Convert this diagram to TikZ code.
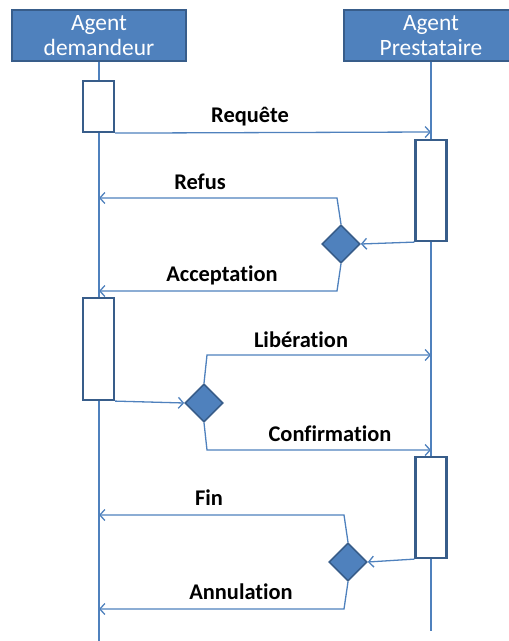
\documentclass[tikz,border=0pt]{standalone}
\usepackage{fontspec}
\setmainfont{Carlito}[Ligatures=NoCommon]
\usetikzlibrary{arrows.meta,shapes.geometric}
\definecolor{blu}{HTML}{4F81BD}
\definecolor{dblu}{HTML}{385D8A}
\begin{document}
\begin{tikzpicture}[x=1bp,y=-1bp,
 head/.style={draw=dblu,line width=2bp,fill=blu,text=white,minimum width=174bp,minimum height=51bp,inner sep=0pt,align=center,font=\fontsize{23.5}{25}\selectfont},
 act/.style={draw=dblu,line width=2.2bp,fill=white,minimum width=31bp,inner sep=0pt},
 dec/.style={diamond,draw=dblu,line width=1.6bp,fill=blu,minimum width=38bp,minimum height=38bp,inner sep=0pt},
 life/.style={draw=blu,line width=1.5bp},
 msg/.style={draw=blu,line width=1.3bp,-{Straight Barb[length=5bp,width=11bp]}},
 lbl/.style={font=\bfseries\fontsize{22.5}{24}\selectfont,text=black,inner sep=0pt}
]
\useasboundingbox (0,0) rectangle (509,641);
% headers
\node[head] (hA) at (99,35.5) {Agent\\demandeur};
\node[head] (hP) at (431,35.5) {Agent\\Prestataire};
% lifelines
\coordinate (eA) at (99,641);
\coordinate (eP) at (431,631);
\draw[life] (hA.south) -- (eA);
\draw[life] (hP.south) -- (eP);
% activations
\node[act,minimum height=51bp] (a1) at (98.5,106.5) {};
\node[act,minimum height=101bp] (a2) at (431,190.5) {};
\node[act,minimum height=102bp] (a3) at (98.5,349) {};
\node[act,minimum height=101bp] (a4) at (431,507.5) {};
% decisions
\node[dec] (d1) at (341,244) {};
\node[dec] (d2) at (204,403) {};
\node[dec] (d3) at (348,562) {};
% coordinates
\coordinate (req) at (431,132);
\coordinate (rf1) at (337,198);
\coordinate (rf2) at (99,198);
\coordinate (ac1) at (337,291);
\coordinate (ac2) at (99,291);
\coordinate (lb1) at (207,355);
\coordinate (lb2) at (431,355);
\coordinate (cf1) at (207,450);
\coordinate (cf2) at (431,450);
\coordinate (fn1) at (344,515);
\coordinate (fn2) at (99,515);
\coordinate (an1) at (344,609);
\coordinate (an2) at (99,609);
% messages
\draw[msg] (a1.south east) -- (req);
\draw[msg] (a2.south west) -- (d1.east);
\draw[msg] (d1.north) -- (rf1) -- (rf2);
\draw[msg] (d1.south) -- (ac1) -- (ac2);
\draw[msg] (a3.south east) -- (d2.west);
\draw[msg] (d2.north) -- (lb1) -- (lb2);
\draw[msg] (d2.south) -- (cf1) -- (cf2);
\draw[msg] (a4.south west) -- (d3.east);
\draw[msg] (d3.north) -- (fn1) -- (fn2);
\draw[msg] (d3.south) -- (an1) -- (an2);
% labels
\node[lbl] (t1) at (250,117) {Requête};
\node[lbl] (t2) at (200,182) {Refus};
\node[lbl] (t3) at (222,275) {Acceptation};
\node[lbl] (t4) at (301,340) {Libération};
\node[lbl] (t5) at (330,434) {Confirmation};
\node[lbl] (t6) at (209,498) {Fin};
\node[lbl] (t7) at (241,592) {Annulation};
\end{tikzpicture}
\end{document}
